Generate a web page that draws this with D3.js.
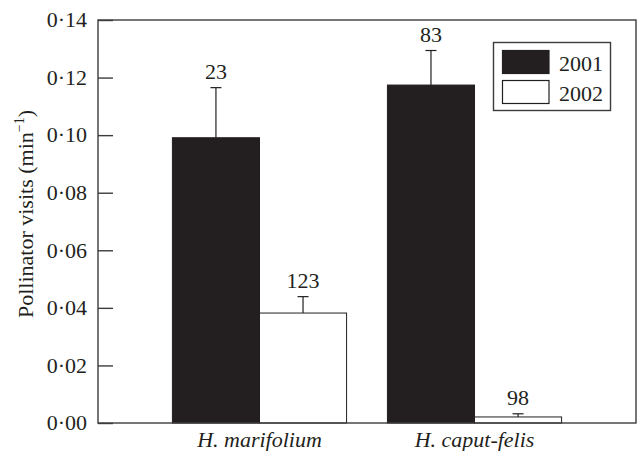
<!DOCTYPE html>
<html>
<head>
<meta charset="utf-8">
<script src="https://cdn.jsdelivr.net/npm/d3@7"></script>
<style>
html,body{margin:0;padding:0;background:#fff;}
svg{display:block;}
text{font-family:"Liberation Serif","Times New Roman",Times,serif;fill:#231f20;}
</style>
</head>
<body>
<svg id="chart" width="640" height="451"></svg>
<script>
const species = ["H. marifolium", "H. caput-felis"];
const years = ["2001", "2002"];
const means2001 = [0.0991, 0.1174];
const means2002 = [0.0382, 0.0021];
const upper2001 = [0.1165, 0.1294];
const upper2002 = [0.0439, 0.0032];
const counts2001 = [23, 83];
const counts2002 = [123, 98];
const yTicks = [0, 0.02, 0.04, 0.06, 0.08, 0.10, 0.12, 0.14];

const data = [];
species.forEach((s, i) => {
  data.push({sp: s, yr: "2001", v: means2001[i], up: upper2001[i], n: counts2001[i]});
  data.push({sp: s, yr: "2002", v: means2002[i], up: upper2002[i], n: counts2002[i]});
});

const svg = d3.select("#chart");
const L = 98, R = 636, T = 20, B = 423;
const ink = "#231f20";

const y = d3.scaleLinear().domain([0, 0.14]).range([B, T]);
const x0 = d3.scaleBand().domain(species).range([L, R]).paddingInner(0.19).paddingOuter(0.346);
const x1 = d3.scaleBand().domain(years).range([0, x0.bandwidth()]);
const fill = d3.scaleOrdinal().domain(years).range([ink, "#ffffff"]);

// bars
const g = svg.append("g");
g.selectAll("rect.bar").data(data).join("rect")
  .attr("class", "bar")
  .attr("x", d => x0(d.sp) + x1(d.yr))
  .attr("width", x1.bandwidth())
  .attr("y", d => y(d.v))
  .attr("height", d => y(0) - y(d.v))
  .attr("fill", d => fill(d.yr))
  .attr("stroke", ink)
  .attr("stroke-width", 1);

// error bars
const cx = d => x0(d.sp) + x1(d.yr) + x1.bandwidth() / 2;
g.selectAll("line.stem").data(data).join("line")
  .attr("x1", cx).attr("x2", cx)
  .attr("y1", d => y(d.v)).attr("y2", d => y(d.up))
  .attr("stroke", ink).attr("stroke-width", 1.2);
g.selectAll("line.cap").data(data).join("line")
  .attr("x1", d => cx(d) - 5.5).attr("x2", d => cx(d) + 5.5)
  .attr("y1", d => y(d.up)).attr("y2", d => y(d.up))
  .attr("stroke", ink).attr("stroke-width", 1.2);

// counts
g.selectAll("text.n").data(data).join("text")
  .attr("x", cx)
  .attr("y", d => y(d.up) - 9)
  .attr("text-anchor", "middle")
  .attr("font-size", 22)
  .text(d => d.n);

// frame
svg.append("rect")
  .attr("x", L).attr("y", T).attr("width", R - L).attr("height", B - T)
  .attr("fill", "none").attr("stroke", "#3c3c3c").attr("stroke-width", 1.4);

// y axis ticks (inward) and labels
const fmt = v => d3.format(".2f")(v).replace(".", "\u00B7");
const yAxis = svg.append("g").attr("transform", `translate(${L},0)`)
  .call(d3.axisRight(y).tickValues(yTicks).tickSize(15).tickFormat(""));
yAxis.select(".domain").remove();
yAxis.selectAll(".tick line").attr("stroke", "#3c3c3c").attr("stroke-width", 1.4);

svg.append("g").selectAll("text").data(yTicks).join("text")
  .attr("x", 87)
  .attr("y", d => y(d))
  .attr("dy", "0.33em")
  .attr("text-anchor", "end")
  .attr("font-size", 22)
  .text(fmt);

// x labels
svg.append("g").selectAll("text").data(species).join("text")
  .attr("x", d => x0(d) + x0.bandwidth() / 2)
  .attr("y", 446.5)
  .attr("text-anchor", "middle")
  .attr("font-size", 22)
  .attr("font-style", "italic")
  .text(d => d);

// y title
const yt = svg.append("text")
  .attr("transform", "translate(33,214) rotate(-90)")
  .attr("text-anchor", "middle")
  .attr("font-size", 22);
yt.append("tspan").text("Pollinator visits (min");
yt.append("tspan").attr("font-size", 14).attr("dy", -9).text("\u22121");
yt.append("tspan").attr("dy", 9).text(")");

// legend
const lg = svg.append("g");
lg.append("rect").attr("x", 493.5).attr("y", 42.5).attr("width", 117).attr("height", 68)
  .attr("fill", "#fff").attr("stroke", "#3c3c3c").attr("stroke-width", 1.4);
const li = lg.selectAll("g.item").data(years).join("g")
  .attr("transform", (d, i) => `translate(502.5,${50.5 + i * 30})`);
li.append("rect").attr("width", 46.5).attr("height", 23)
  .attr("fill", d => fill(d)).attr("stroke", ink).attr("stroke-width", 1.2);
li.append("text").attr("x", 56.5).attr("y", 20.8).attr("font-size", 22).text(d => d);
</script>
</body>
</html>
